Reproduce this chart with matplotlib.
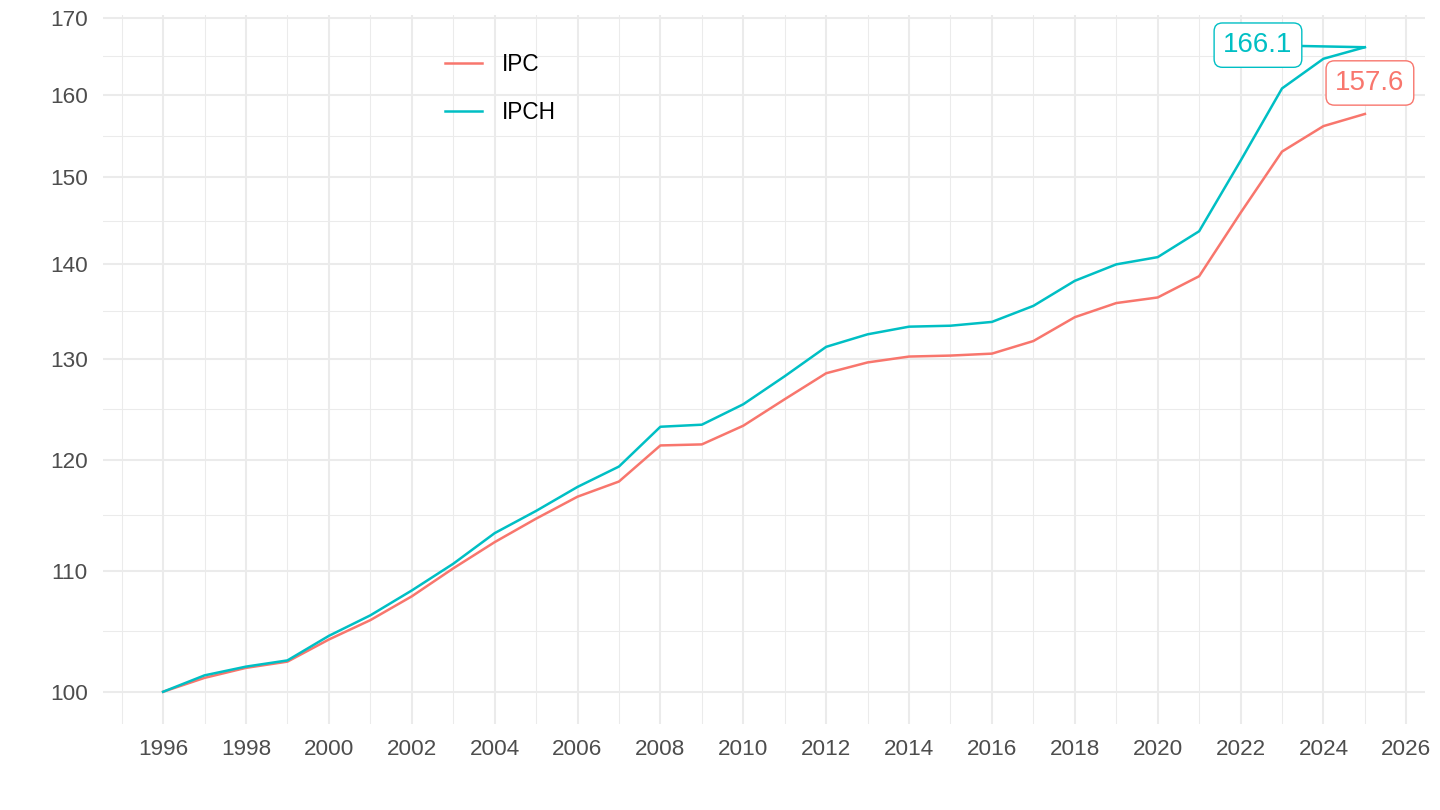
import numpy as np
import matplotlib.pyplot as plt
from matplotlib.ticker import FixedLocator, NullFormatter, FixedFormatter

plt.rcParams['font.family'] = ['Liberation Sans', 'DejaVu Sans']

years = list(range(1996, 2026))
ipc = [100.0, 101.1, 101.9, 102.4, 104.2, 105.8, 107.8, 110.2, 112.5, 114.6,
       116.6, 118.0, 121.4, 121.5, 123.3, 125.9, 128.5, 129.6, 130.2, 130.3,
       130.5, 131.8, 134.3, 135.8, 136.4, 138.7, 145.8, 153.0, 156.1, 157.6]
ipch = [100.0, 101.3, 102.0, 102.5, 104.5, 106.2, 108.3, 110.6, 113.3, 115.3,
        117.5, 119.4, 123.2, 123.4, 125.4, 128.2, 131.2, 132.5, 133.3, 133.4,
        133.8, 135.5, 138.2, 140.0, 140.8, 143.7, 151.9, 160.8, 164.6, 166.1]
y_breaks = [100, 110, 120, 130, 140, 150, 160, 170]
x_breaks = list(range(1996, 2027, 2))

red = '#F8766D'
cyan = '#00BFC4'
grid = '#EBEBEB'

fig = plt.figure(figsize=(14.4, 8.1), dpi=100)
ax = fig.add_axes([103 / 1440, 1 - 724 / 810, (1425 - 103) / 1440, (724 - 15) / 810])

ax.plot(years, ipc, color=red, lw=1.8, label='IPC', zorder=3)
ax.plot(years, ipch, color=cyan, lw=1.8, label='IPCH', zorder=3)

ax.set_yscale('log')
lo, hi = np.log10(min(ipc)), np.log10(max(ipch))
pad = (hi - lo) * 0.05
ax.set_ylim(10 ** (lo - pad), 10 ** (hi + pad))
xpad = (years[-1] - years[0]) * 0.05
ax.set_xlim(years[0] - xpad, years[-1] + xpad)

ax.yaxis.set_major_locator(FixedLocator(y_breaks))
ax.yaxis.set_major_formatter(FixedFormatter([str(v) for v in y_breaks]))
y_minor = [np.sqrt(a * b) for a, b in zip(y_breaks[:-1], y_breaks[1:])]
ax.yaxis.set_minor_locator(FixedLocator(y_minor))
ax.yaxis.set_minor_formatter(NullFormatter())
ax.xaxis.set_major_locator(FixedLocator(x_breaks))
ax.xaxis.set_minor_locator(FixedLocator([x - 1 for x in x_breaks]))

ax.grid(which='major', color=grid, lw=1.5, zorder=0)
ax.grid(which='minor', color=grid, lw=0.75, zorder=0)
ax.set_axisbelow(True)
for s in ax.spines.values():
    s.set_visible(False)
ax.tick_params(which='both', length=0)
ax.tick_params(axis='x', labelsize=16.2, labelcolor='#4D4D4D', pad=11)
ax.tick_params(axis='y', labelsize=16.2, labelcolor='#4D4D4D', pad=11)

# end-point labels
ax.annotate(f'{ipch[-1]:.1f}', xy=(years[-1], ipch[-1]), xytext=(-77, 1.5),
            textcoords='offset points', ha='center', va='center', fontsize=20,
            color=cyan,
            bbox=dict(boxstyle='round,pad=0.33,rounding_size=0.3', fc='white', ec=cyan, lw=1),
            arrowprops=dict(arrowstyle='-', color=cyan, lw=1.8, shrinkA=0, shrinkB=0),
            zorder=5)
ax.annotate(f'{ipc[-1]:.1f}', xy=(years[-1], ipc[-1]), xytext=(3.6, 22.3),
            textcoords='offset points', ha='center', va='center', fontsize=20,
            color=red,
            bbox=dict(boxstyle='round,pad=0.33,rounding_size=0.3', fc='white', ec=red, lw=1),
            zorder=5)

ax.legend(loc='upper left', bbox_to_anchor=(445 / 1440, 1 - 53 / 810),
          bbox_transform=fig.transFigure, frameon=False, fontsize=16.3,
          handlelength=1.63, handletextpad=0.88, labelspacing=1.12,
          borderpad=0, borderaxespad=0)

fig.savefig('out.png', dpi=100, facecolor='white')
